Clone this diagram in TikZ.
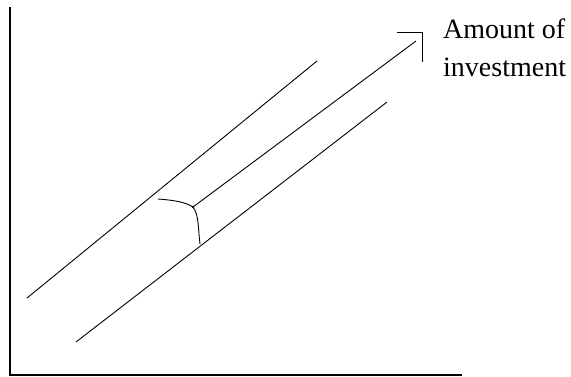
\documentclass[tikz,border=0pt]{standalone}
\usepackage{fontspec}
\setmainfont{Liberation Serif}
\begin{document}
\begin{tikzpicture}[x=1pt,y=-1pt,
  axisline/.style={line width=1.6pt,black},
  thinline/.style={line width=0.9pt,black},
  lbl/.style={anchor=base west,inner sep=0pt,font=\fontsize{28}{34}\selectfont}]
\useasboundingbox (0,0) rectangle (571,376);
% axes
\coordinate (top) at (10,7);
\coordinate (origin) at (10,375);
\coordinate (xend) at (462,375);
\draw[axisline] (top) -- (origin) -- (xend);
% parallel lines
\coordinate (u1) at (27,298);
\coordinate (u2) at (317,61);
\coordinate (l1) at (76,342);
\coordinate (l2) at (387,102);
\coordinate (m1) at (193,207);
\coordinate (m2) at (416,41);
\draw[thinline] (u1) -- (u2);
\draw[thinline] (l1) -- (l2);
\draw[thinline] (m1) -- (m2);
% arrowhead corner
\coordinate (ah1) at (397,32);
\coordinate (ah2) at (422,32);
\coordinate (ah3) at (422,62);
\draw[thinline] (ah1) -- (ah2) -- (ah3);
% curve
\coordinate (c0) at (158,199);
\coordinate (c3) at (200,244);
\draw[thinline] (c0) .. controls (172,200) and (186,202) .. (m1)
  .. controls (199,215) and (198,228) .. (c3);
\fill (m1) circle (1.3pt);
% labels
\node[lbl] (t1) at (443,38) {Amount of};
\node[lbl] (t2) at (443,76) {investment};
\end{tikzpicture}
\end{document}
